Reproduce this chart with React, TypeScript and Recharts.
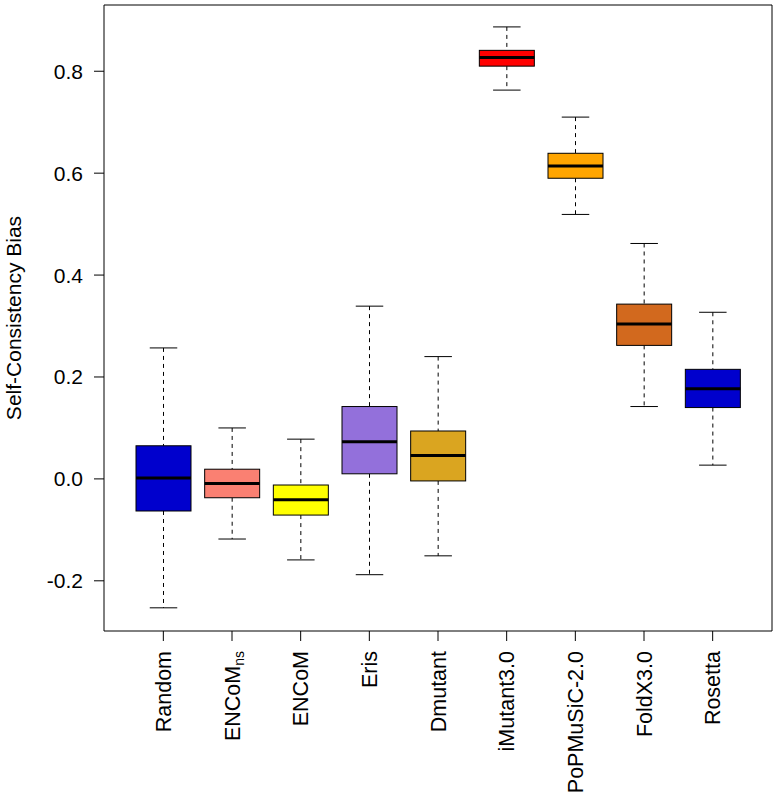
import React from 'react';
import { ComposedChart, Bar, Line, XAxis, YAxis } from 'recharts';

// box plot stats
const categories = ['Random', 'ENCoM_ns', 'ENCoM', 'Eris', 'Dmutant', 'iMutant3.0', 'PoPMuSiC-2.0', 'FoldX3.0', 'Rosetta'];
const lowWhisker = [-0.253, -0.118, -0.159, -0.188, -0.151, 0.763, 0.519, 0.142, 0.027];
const q1 = [-0.063, -0.037, -0.071, 0.01, -0.004, 0.81, 0.59, 0.262, 0.14];
const median = [0.002, -0.009, -0.041, 0.073, 0.046, 0.827, 0.614, 0.304, 0.177];
const q3 = [0.065, 0.019, -0.012, 0.142, 0.094, 0.841, 0.639, 0.343, 0.215];
const highWhisker = [0.257, 0.1, 0.078, 0.339, 0.24, 0.887, 0.71, 0.462, 0.327];
const boxColors = ['#0000CD', '#FA8072', '#FFFF00', '#9370DB', '#DAA520', '#FF0000', '#FFA500', '#D2691E', '#0000CD'];
const yTicks = [-0.2, 0, 0.2, 0.4, 0.6, 0.8];

const FONT = '"Liberation Sans", Arial, Helvetica, sans-serif';
const Y_DOMAIN: [number, number] = [-0.2985, 0.93];

const data = categories.map((name, i) => ({
  name,
  min: lowWhisker[i],
  q1: q1[i],
  median: median[i],
  q3: q3[i],
  max: highWhisker[i],
  color: boxColors[i],
}));

// whole box + whiskers drawn from the range bar [min, max]
const BoxShape = (props: any) => {
  const { x, y, width, height, payload } = props;
  const top = Math.min(y, y + height);
  const bottom = Math.max(y, y + height);
  const span = payload.max - payload.min;
  const toPx = (v: number) => top + ((payload.max - v) / span) * (bottom - top);
  const cx = x + width / 2;
  const capHalf = width / 4;
  const yQ1 = toPx(payload.q1);
  const yQ3 = toPx(payload.q3);
  const yMed = toPx(payload.median);
  return (
    <g>
      <line x1={cx} x2={cx} y1={top} y2={yQ3} stroke="#000" strokeDasharray="4 4" />
      <line x1={cx} x2={cx} y1={yQ1} y2={bottom} stroke="#000" strokeDasharray="4 4" />
      <line x1={cx - capHalf} x2={cx + capHalf} y1={top} y2={top} stroke="#000" />
      <line x1={cx - capHalf} x2={cx + capHalf} y1={bottom} y2={bottom} stroke="#000" />
      <rect x={x} y={yQ3} width={width} height={yQ1 - yQ3} fill={payload.color} stroke="#000" strokeWidth={1} />
      <line x1={x} x2={x + width} y1={yMed} y2={yMed} stroke="#000" strokeWidth={3} />
    </g>
  );
};

const XTick = (props: any) => {
  const { x, y, payload } = props;
  const name: string = payload.value;
  return (
    <g transform={`translate(${x},${y})`}>
      <text transform="rotate(-90)" textAnchor="end" dy="0.36em" fontSize={21.5} fontFamily={FONT} fill="#000">
        {name === 'ENCoM_ns' ? (
          <>
            <tspan>ENCoM</tspan>
            <tspan fontSize={14} dy="0.3em">ns</tspan>
          </>
        ) : (
          name
        )}
      </text>
    </g>
  );
};

export default function App() {
  return (
    <div style={{ position: 'absolute', left: 0, top: 0, background: '#fff' }}>
      <ComposedChart width={777} height={795} data={data} margin={{ top: 4, right: 4, bottom: 0, left: 0 }}>
        <XAxis
          dataKey="name"
          height={164}
          padding={{ left: 25, right: 25 }}
          tickSize={10}
          tickMargin={10}
          interval={0}
          stroke="#000"
          tickLine={{ stroke: '#000' }}
          tick={<XTick />}
        />
        {/* top + right axes only draw the frame lines */}
        <XAxis xAxisId="top" dataKey="name" orientation="top" height={1} padding={{ left: 25, right: 25 }} tick={false} tickLine={false} stroke="#000" />
        <YAxis
          domain={Y_DOMAIN}
          allowDataOverflow
          ticks={yTicks}
          width={104}
          tickSize={10}
          tickMargin={11}
          stroke="#000"
          tickFormatter={(v: number) => v.toFixed(1)}
          tick={{ fill: '#000', fontSize: 21, fontFamily: FONT }}
          label={{
            value: 'Self-Consistency Bias',
            angle: -90,
            position: 'insideLeft',
            offset: 14,
            style: { textAnchor: 'middle', fill: '#000', fontSize: 21, fontFamily: FONT },
          }}
        />
        <YAxis yAxisId="right" orientation="right" domain={Y_DOMAIN} allowDataOverflow width={1} tick={false} tickLine={false} stroke="#000" />
        <Line
          xAxisId="top"
          yAxisId="right"
          dataKey="median"
          stroke="none"
          dot={false}
          activeDot={false}
          legendType="none"
          isAnimationActive={false}
        />
        <Bar dataKey={(d: any) => [d.min, d.max]} barSize={55} shape={<BoxShape />} isAnimationActive={false} />
      </ComposedChart>
    </div>
  );
}
